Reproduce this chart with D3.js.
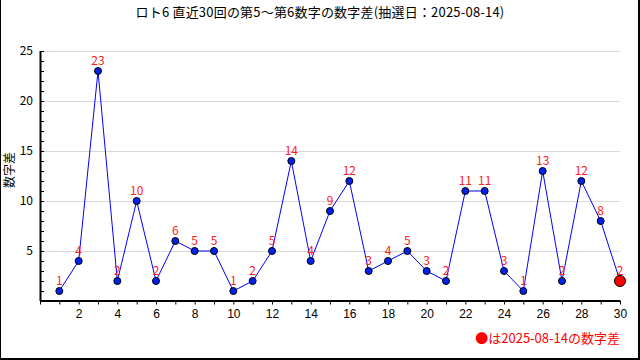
<!DOCTYPE html>
<html>
<head>
<meta charset="utf-8">
<script src="https://cdn.jsdelivr.net/npm/d3@7"></script>
<style>
  body { margin: 0; background: #fff; }
  svg { display: block; font-family: "Noto Sans CJK JP", "DejaVu Sans", sans-serif; }
</style>
</head>
<body>
<svg></svg>
<script>
const size = { w: 640, h: 360 };
const margin = { t: 51, r: 20, b: 60, l: 40 };

const titleText = "ロト6 直近30回の第5～第6数字の数字差(抽選日：2025-08-14)";
const yLabel = "数字差";
const legendText = "●は2025-08-14の数字差";
const draws = d3.range(1, 31);
const diffs = [1, 4, 23, 2, 10, 2, 6, 5, 5, 1, 2, 5, 14, 4, 9, 12, 3, 4, 5, 3, 2, 11, 11, 3, 1, 13, 2, 12, 8, 2];
const xTicks = [2, 4, 6, 8, 10, 12, 14, 16, 18, 20, 22, 24, 26, 28, 30];
const yTicks = [5, 10, 15, 20, 25];

const data = draws.map((d, i) => ({ n: d, v: diffs[i] }));

const svg = d3.select("svg").attr("width", size.w).attr("height", size.h);

// frame (left, right, bottom)
svg.append("line").attr("x1", 0.5).attr("x2", 0.5).attr("y1", 0).attr("y2", size.h).attr("stroke", "#000");
svg.append("rect").attr("x", 638).attr("y", 0).attr("width", 2).attr("height", size.h).attr("fill", "#000");
svg.append("rect").attr("x", 0).attr("y", 358).attr("width", size.w).attr("height", 2).attr("fill", "#000");

const xScale = d3.scaleLinear().domain([0, 30]).range([margin.l, size.w - margin.r]);
const yScale = d3.scaleLinear().domain([0, 25]).range([size.h - margin.b + 1, margin.t]);

// title
svg.append("text")
  .attr("x", 320).attr("y", 17)
  .attr("text-anchor", "middle")
  .attr("font-size", 13)
  .attr("letter-spacing", 0.2)
  .text(titleText);

// grid
svg.append("g")
  .selectAll("line")
  .data(yTicks)
  .join("line")
  .attr("x1", margin.l + 4).attr("x2", xScale(30))
  .attr("y1", (d) => Math.round(yScale(d)) + 0.5)
  .attr("y2", (d) => Math.round(yScale(d)) + 0.5)
  .attr("stroke", "#d8d8d8");

// y axis
const yAxis = d3.axisRight(yScale).ticks(25).tickSize(4).tickFormat("");
svg.append("g")
  .attr("transform", `translate(${margin.l},0)`)
  .call(yAxis)
  .call((g) => g.select(".domain").attr("d", `M0.5,${yScale(25)}V${yScale(0)}`));
svg.append("g")
  .selectAll("text")
  .data(yTicks)
  .join("text")
  .attr("x", 33).attr("y", (d) => yScale(d) + 4)
  .attr("text-anchor", "end")
  .attr("font-size", 12)
  .text((d) => d);

// x axis
const xAxis = d3.axisBottom(xScale).ticks(30).tickSize(4).tickFormat((d) => (xTicks.includes(d) ? d : ""));
svg.append("g")
  .attr("transform", `translate(0,${Math.round(yScale(0)) - 0.5})`)
  .call(xAxis)
  .call((g) => g.select(".domain").attr("d", `M${margin.l},0.5H${xScale(30)}`))
  .call((g) => g.selectAll("text").attr("font-size", 12).attr("font-family", null).attr("dy", "0.9em"));

svg.selectAll(".tick line").attr("stroke", "#000");
svg.selectAll(".domain").attr("stroke", "#000").attr("stroke-width", 2);

// y label
svg.append("text")
  .attr("transform", `translate(14,170) rotate(-90)`)
  .attr("text-anchor", "middle")
  .attr("font-size", 12)
  .text(yLabel);

// line
const line = d3.line().x((d) => xScale(d.n)).y((d) => yScale(d.v));
svg.append("path")
  .datum(data)
  .attr("d", line)
  .attr("fill", "none")
  .attr("stroke", "#0000ff")
  .attr("stroke-width", 1);

// points
svg.append("g")
  .selectAll("circle")
  .data(data)
  .join("circle")
  .attr("cx", (d) => xScale(d.n))
  .attr("cy", (d) => yScale(d.v))
  .attr("r", (d, i) => (i === data.length - 1 ? 5.5 : 3.5))
  .attr("fill", (d, i) => (i === data.length - 1 ? "#ff0000" : "#0022ee"))
  .attr("stroke", "#000")
  .attr("stroke-width", 1);

// value labels
svg.append("g")
  .selectAll("text")
  .data(data)
  .join("text")
  .attr("x", (d) => xScale(d.n))
  .attr("y", (d) => yScale(d.v) - 6)
  .attr("text-anchor", "middle")
  .attr("font-size", 12)
  .attr("fill", "#ff2020")
  .text((d) => d.v);

// legend
svg.append("text")
  .attr("x", 620).attr("y", 343)
  .attr("text-anchor", "end")
  .attr("font-size", 13)
  .attr("fill", "#ff0000")
  .text(legendText);
</script>
</body>
</html>
